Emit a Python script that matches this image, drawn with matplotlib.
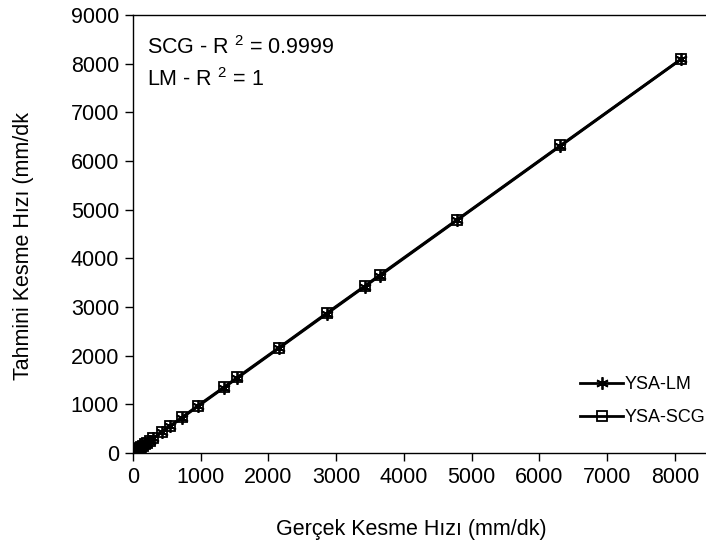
import numpy as np
import matplotlib
matplotlib.use("Agg")
import matplotlib.pyplot as plt

plt.rcParams['font.family'] = ['Liberation Sans', 'DejaVu Sans']
plt.rcParams['mathtext.fontset'] = 'custom'
plt.rcParams['mathtext.rm'] = 'Liberation Sans'
plt.rcParams['mathtext.it'] = 'Liberation Sans'
plt.rcParams['mathtext.bf'] = 'Liberation Sans'

# actual cutting speed (mm/dk) and network predictions
actual = [8, 15, 22, 30, 40, 52, 65, 80, 98, 120, 145, 175, 210, 250,
          300, 430, 550, 725, 960, 1340, 1540, 2150, 2860, 3420, 3640,
          4780, 6310, 8090]
pred_lm = [8, 15, 22, 30, 40, 52, 65, 80, 98, 120, 145, 175, 210, 250,
           300, 430, 550, 725, 960, 1340, 1540, 2150, 2860, 3420, 3640,
           4780, 6310, 8090]
pred_scg = [10, 18, 20, 33, 38, 55, 62, 84, 95, 124, 142, 180, 205, 255,
            305, 440, 560, 735, 975, 1350, 1555, 2160, 2875, 3430, 3655,
            4790, 6320, 8095]

x_ticks = [0, 1000, 2000, 3000, 4000, 5000, 6000, 7000, 8000]
y_ticks = [0, 1000, 2000, 3000, 4000, 5000, 6000, 7000, 8000, 9000]

W, H = 706, 557
fig = plt.figure(figsize=(W / 100, H / 100), dpi=100)
ax = fig.add_axes([133 / W, (H - 453) / H, (W - 133) / W, (453 - 15) / H])

fs = 15.5
ax.plot(actual, pred_lm, color='black', lw=2.0, marker=(6, 2, 0),
        markersize=9, markeredgewidth=1.3, label='YSA-LM')
ax.plot(actual, pred_scg, color='black', lw=2.0, marker='s',
        markersize=7.5, markerfacecolor='none', markeredgewidth=1.3,
        label='YSA-SCG')

ax.set_xlim(0, 8458)
ax.set_ylim(0, 9000)
ax.set_xticks(x_ticks)
ax.set_yticks(y_ticks)
ax.tick_params(direction='out', length=6, width=1, labelsize=fs, pad=4)
ax.spines['right'].set_visible(False)
for s in ['left', 'bottom', 'top']:
    ax.spines[s].set_linewidth(1.0)

fig.text(411 / W, 1 - 530 / H, 'Gerçek Kesme Hızı (mm/dk)', fontsize=fs,
         ha='center', va='center')
fig.text(24 / W, 1 - 380 / H, 'Tahmini Kesme Hızı (mm/dk', fontsize=fs,
         ha='center', va='bottom', rotation=90)

fig.text(147 / W, 1 - 48 / H, 'SCG - R $^{2}$ = 0.9999',
         fontsize=fs, va='center', ha='left')
fig.text(147 / W, 1 - 80 / H, 'LM - R $^{2}$ = 1',
         fontsize=fs, va='center', ha='left')

ax.legend(loc='center left', bbox_to_anchor=(580 / W, 1 - 401 / H),
          bbox_transform=fig.transFigure, frameon=False, fontsize=13,
          handlelength=2.4, handletextpad=0.05, labelspacing=0.9,
          borderaxespad=0, borderpad=0, markerscale=1.0)

fig.savefig('out.png', dpi=100)
